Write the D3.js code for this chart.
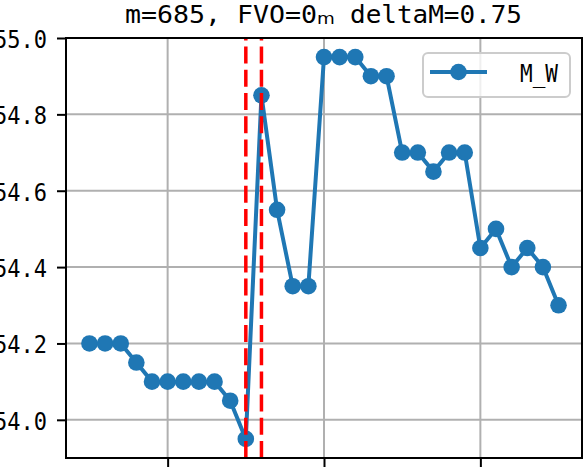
<!DOCTYPE html>
<html><head><meta charset="utf-8">
<script src="https://cdn.jsdelivr.net/npm/d3@7"></script>
<style>body{margin:0;background:#fff} svg{display:block}</style>
</head><body><svg id="c" width="583" height="475"></svg>
<script>
// ---- data ----
const titleMain = "m=685, FVO=0";
const titleSub = "\u2098";
const titleTail = "deltaM=0.75";
const seriesName = "M_W";
const xValues = [0,1,2,3,4,5,6,7,8,9,10,11,12,13,14,15,16,17,18,19,20,21,22,23,24,25,26,27,28,29,30];
const mW = [54.2,54.2,54.2,54.15,54.1,54.1,54.1,54.1,54.1,54.05,53.95,54.85,54.55,54.35,54.35,54.95,54.95,54.95,54.9,54.9,54.7,54.7,54.65,54.7,54.7,54.45,54.5,54.4,54.45,54.4,54.3];
const vLines = [10, 11];
const yTicks = [54.0,54.2,54.4,54.6,54.8,55.0];
const xTicks = [5,15,25];
const xDomain = [-1.5, 31.5];
const yDomain = [53.9, 55.0];

// ---- layout ----
const L = 66, R = 582, T = 38, B = 458;
const blue = "#1f77b4";
const mono = "'DejaVu Sans Mono', 'Liberation Mono', monospace";
const svg = d3.select("#c");
const x = d3.scaleLinear().domain(xDomain).range([L, R]);
const y = d3.scaleLinear().domain(yDomain).range([B, T]);

// grid
const grid = svg.append("g");
grid.selectAll(".gx").data(xTicks).join("line")
  .attr("x1", d => x(d)).attr("x2", d => x(d)).attr("y1", T).attr("y2", B)
  .attr("stroke", "#b0b0b0").attr("stroke-width", 2);
grid.selectAll(".gy").data(yTicks).join("line")
  .attr("y1", d => y(d)).attr("y2", d => y(d)).attr("x1", L).attr("x2", R)
  .attr("stroke", "#b0b0b0").attr("stroke-width", 2);

// axes
const yAxis = svg.append("g").attr("transform", `translate(${L},0)`)
  .call(d3.axisLeft(y).tickValues(yTicks).tickFormat(d3.format(".1f")).tickSize(9).tickPadding(10));
yAxis.select(".domain").remove();
yAxis.selectAll(".tick line").attr("stroke", "#000").attr("stroke-width", 2);
yAxis.selectAll(".tick text")
  .attr("font-family", mono).attr("font-size", 24).attr("fill", "#000")
  .attr("dy", null).attr("y", 9.5).attr("x", -19)
  .attr("textLength", 53).attr("lengthAdjust", "spacingAndGlyphs");

const xAxis = svg.append("g").attr("transform", `translate(0,${B})`)
  .call(d3.axisBottom(x).tickValues(xTicks).tickFormat("").tickSize(9));
xAxis.select(".domain").remove();
xAxis.selectAll(".tick line").attr("stroke", "#000").attr("stroke-width", 2);

// series
const line = d3.line().x((d, i) => x(xValues[i])).y(d => y(d));
svg.append("path").datum(mW).attr("d", line)
  .attr("fill", "none").attr("stroke", blue).attr("stroke-width", 4).attr("stroke-linejoin", "round");
svg.append("g").selectAll("circle").data(mW).join("circle")
  .attr("cx", (d, i) => x(xValues[i])).attr("cy", d => y(d)).attr("r", 8.3).attr("fill", blue);

// red dashed lines (drawn from bottom upward)
svg.append("g").selectAll("line").data(vLines).join("line")
  .attr("x1", d => x(d)).attr("x2", d => x(d)).attr("y1", B).attr("y2", T)
  .attr("stroke", "#ff0000").attr("stroke-width", 3.5).attr("stroke-dasharray", "17,6.2");

// spines
svg.append("rect").attr("x", L).attr("y", T).attr("width", R - L).attr("height", B - T)
  .attr("fill", "none").attr("stroke", "#000").attr("stroke-width", 2);

// legend
const lg = svg.append("g");
lg.append("rect").attr("x", 423).attr("y", 53).attr("width", 147).attr("height", 44).attr("rx", 5)
  .attr("fill", "#fff").attr("fill-opacity", 0.8).attr("stroke", "#cccccc").attr("stroke-width", 2);
lg.append("line").attr("x1", 430).attr("x2", 487).attr("y1", 72).attr("y2", 72)
  .attr("stroke", blue).attr("stroke-width", 4);
lg.append("circle").attr("cx", 458.5).attr("cy", 72).attr("r", 8.3).attr("fill", blue);
lg.append("text").attr("x", 520).attr("y", 82).text(seriesName)
  .attr("font-family", mono).attr("font-size", 24).attr("textLength", 38).attr("lengthAdjust", "spacingAndGlyphs");

// title
const tg = svg.append("g").attr("font-family", mono).attr("font-size", 24).attr("fill", "#000");
tg.append("text").attr("x", 125).attr("y", 23).text(titleMain)
  .attr("textLength", 192).attr("lengthAdjust", "spacingAndGlyphs");
tg.append("text").attr("x", 317).attr("y", 24).text(titleSub)
  .attr("font-family", "'DejaVu Sans'").attr("font-size", 29);
tg.append("text").attr("x", 350).attr("y", 23).text(titleTail)
  .attr("textLength", 172).attr("lengthAdjust", "spacingAndGlyphs");
</script></body></html>
